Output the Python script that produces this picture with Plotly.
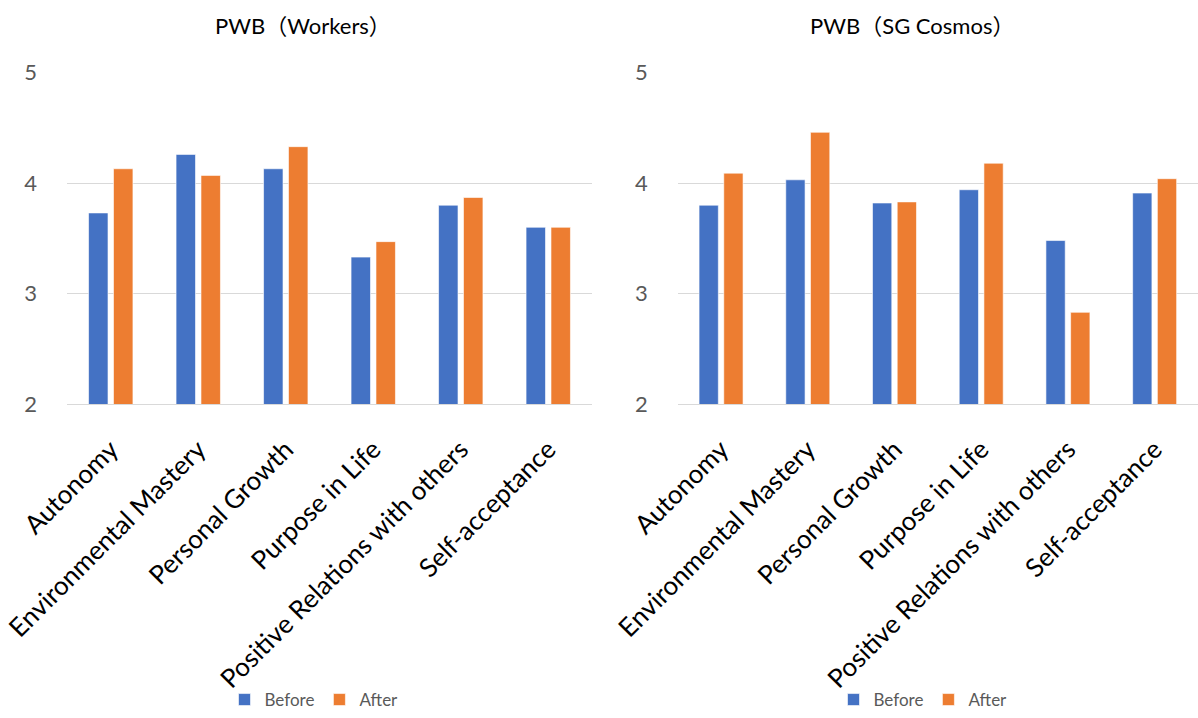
import plotly.graph_objects as go

# Psychological well-being sub-scale means, before and after
categories = [
    "Autonomy",
    "Environmental Mastery",
    "Personal Growth",
    "Purpose in Life",
    "Positive Relations with others",
    "Self-acceptance",
]
workers_before = [3.73, 4.26, 4.13, 3.33, 3.80, 3.60]
workers_after = [4.13, 4.07, 4.33, 3.47, 3.87, 3.60]
cosmos_before = [3.80, 4.03, 3.82, 3.94, 3.48, 3.91]
cosmos_after = [4.09, 4.46, 3.83, 4.18, 2.83, 4.04]
y_ticks = [2, 3, 4, 5]
titles = ["PWB（Workers）", "PWB（SG Cosmos）"]

W, H = 1198, 718
BLUE = "#4472C4"
ORANGE = "#ED7D31"
GRID = "#D9D9D9"
FONT = "Lato, 'Noto Sans CJK JP', sans-serif"

fig = go.Figure()

panels = [
    ("x", "y", "legend", workers_before, workers_after),
    ("x2", "y2", "legend2", cosmos_before, cosmos_after),
]
for xa, ya, lg, before, after in panels:
    fig.add_trace(go.Bar(x=categories, y=before, name="Before", marker_color=BLUE,
                         marker_line=dict(color="white", width=0.6),
                         xaxis=xa, yaxis=ya, legend=lg))
    fig.add_trace(go.Bar(x=categories, y=after, name="After", marker_color=ORANGE,
                         marker_line=dict(color="white", width=0.6),
                         xaxis=xa, yaxis=ya, legend=lg))

y_dom = [1 - 404 / H, 1 - 72 / H]
x_doms = [[67 / W, 592 / W], [677.7 / W, 1.0]]

xcommon = dict(
    type="category", tickangle=-45, automargin=False, showgrid=False,
    showline=True, linecolor=GRID, linewidth=1, ticks="",
    ticklabelstandoff=19,
    tickfont=dict(family=FONT, size=26, color="#000000"),
)
ycommon = dict(
    range=[2, 5.006], tickvals=y_ticks, showgrid=True, gridcolor=GRID, gridwidth=1,
    zeroline=False, showline=False, ticks="", automargin=False,
    ticklabelstandoff=29,
    tickfont=dict(family=FONT, size=22, color="#595959"),
)

legend_style = dict(orientation="h", y=0, xanchor="center", yanchor="bottom",
                    font=dict(family=FONT, size=17, color="#595959"), itemwidth=30,
                    bgcolor="rgba(0,0,0,0)")

fig.update_layout(
    width=W, height=H,
    margin=dict(l=0, r=0, t=0, b=0),
    paper_bgcolor="white", plot_bgcolor="white",
    barmode="group", bargap=0.43, bargroupgap=0.22,
    font=dict(family=FONT),
    xaxis=dict(domain=x_doms[0], anchor="y", **xcommon),
    yaxis=dict(domain=y_dom, anchor="x", **ycommon),
    xaxis2=dict(domain=x_doms[1], anchor="y2", **xcommon),
    yaxis2=dict(domain=y_dom, anchor="x2", **ycommon),
    legend=dict(x=314 / W, **legend_style),
    legend2=dict(x=923 / W, **legend_style),
    annotations=[
        dict(text=titles[0], x=303 / W, y=1 - 25 / H, xref="paper", yref="paper",
             showarrow=False, xanchor="center", yanchor="middle",
             font=dict(family=FONT, size=22, color="#000000")),
        dict(text=titles[1], x=912 / W, y=1 - 25 / H, xref="paper", yref="paper",
             showarrow=False, xanchor="center", yanchor="middle",
             font=dict(family=FONT, size=22, color="#000000")),
    ],
)

fig.write_html("out.html")
